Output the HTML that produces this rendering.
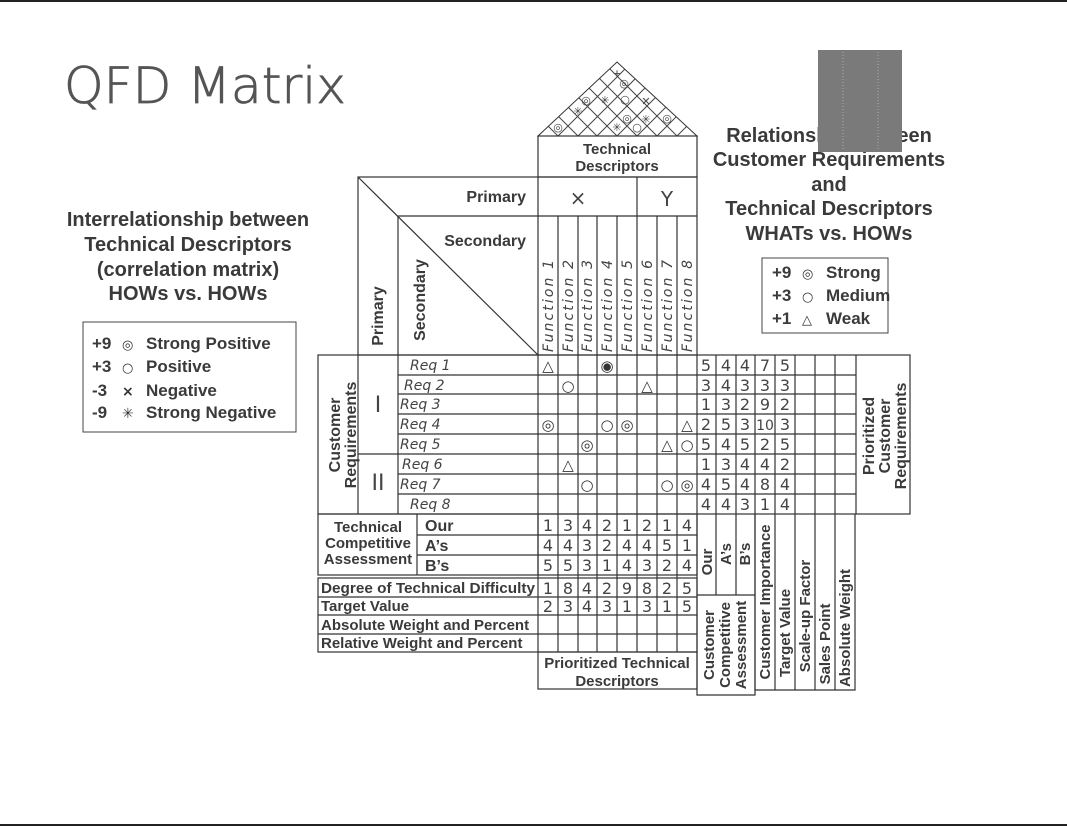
<!DOCTYPE html>
<html><head><meta charset="utf-8"><style>
body{margin:0;background:#fff}
svg{display:block}
.b{font-family:"Liberation Sans",sans-serif;font-weight:bold;fill:#3a3a3a}
.h{font-family:"DejaVu Sans",sans-serif;fill:#444}
.s{font-family:"DejaVu Sans",sans-serif;fill:#333}
</style></head><body>
<svg width="1067" height="827" viewBox="0 0 1067 827" xmlns="http://www.w3.org/2000/svg">
<rect width="1067" height="827" fill="#fff"/>
<line x1="0" y1="1" x2="1067" y2="1" stroke="#222" stroke-width="2"/>
<line x1="0" y1="825" x2="1067" y2="825" stroke="#222" stroke-width="2"/>
<text x="64" y="103" font-family="DejaVu Sans ExtraLight, DejaVu Sans, sans-serif" font-weight="200" font-size="50" fill="#555" stroke="#555" stroke-width="0.8" textLength="282" lengthAdjust="spacingAndGlyphs">QFD Matrix</text>

<g class="b" font-size="20" text-anchor="middle">
<text x="188" y="226">Interrelationship between</text>
<text x="188" y="251">Technical Descriptors</text>
<text x="188" y="276">(correlation matrix)</text>
<text x="188" y="300">HOWs vs. HOWs</text>
</g>
<g class="b" font-size="20" text-anchor="middle">
<text x="829" y="142">Relationship between</text>
<text x="829" y="166">Customer Requirements</text>
<text x="829" y="191">and</text>
<text x="829" y="215">Technical Descriptors</text>
<text x="829" y="240">WHATs vs. HOWs</text>
</g>
<rect x="818" y="50" width="84" height="102" fill="#7a7a7a"/>
<line x1="843" y1="52" x2="843" y2="150" stroke="#aaa" stroke-dasharray="1 2"/>
<line x1="878" y1="52" x2="878" y2="150" stroke="#aaa" stroke-dasharray="1 2"/>

<rect x="83" y="322" width="213" height="110" fill="none" stroke="#444"/>
<g class="b" font-size="17">
<text x="92" y="349">+9</text><text x="122" y="349" class="s" font-size="13">◎</text><text x="146" y="349">Strong Positive</text>
<text x="92" y="372">+3</text><text x="122" y="372" class="s" font-size="13">○</text><text x="146" y="372">Positive</text>
<text x="92" y="396">-3</text><text x="122" y="396" class="s" font-size="14">×</text><text x="146" y="396">Negative</text>
<text x="92" y="418">-9</text><text x="122" y="418" class="s" font-size="14">✳</text><text x="146" y="418">Strong Negative</text>
</g>
<rect x="762" y="258" width="126" height="75" fill="none" stroke="#444"/>
<g class="b" font-size="17">
<text x="772" y="278">+9</text><text x="802" y="278" class="s" font-size="13">◎</text><text x="826" y="278">Strong</text>
<text x="772" y="301">+3</text><text x="802" y="301" class="s" font-size="13">○</text><text x="826" y="301">Medium</text>
<text x="772" y="324">+1</text><text x="802" y="324" class="s" font-size="13">△</text><text x="826" y="324">Weak</text>
</g>

<defs><clipPath id="roof"><polygon points="538,136 617,62 697,136"/></clipPath></defs>
<g clip-path="url(#roof)" stroke="#444" stroke-width="1">
<line x1="538" y1="136" x2="638" y2="36"/><line x1="558" y1="136" x2="658" y2="36"/><line x1="578" y1="136" x2="678" y2="36"/><line x1="597" y1="136" x2="697" y2="36"/><line x1="617" y1="136" x2="717" y2="36"/><line x1="637" y1="136" x2="737" y2="36"/><line x1="657" y1="136" x2="757" y2="36"/><line x1="677" y1="136" x2="777" y2="36"/>
<line x1="697" y1="136" x2="597" y2="36"/><line x1="677" y1="136" x2="577" y2="36"/><line x1="657" y1="136" x2="557" y2="36"/><line x1="637" y1="136" x2="537" y2="36"/><line x1="617" y1="136" x2="517" y2="36"/><line x1="597" y1="136" x2="497" y2="36"/><line x1="578" y1="136" x2="478" y2="36"/><line x1="558" y1="136" x2="458" y2="36"/>
</g>
<polygon points="538,136 617,62 697,136" fill="none" stroke="#333"/>
<g class="h" font-size="11" text-anchor="middle">
<text x="558" y="131">◎</text><text x="578" y="115">✳</text><text x="586" y="104">◎</text><text x="605" y="104">✳</text><text x="625" y="103">○</text><text x="624" y="87">◎</text><text x="617" y="77">+</text><text x="646" y="105">✕</text><text x="627" y="122">◎</text><text x="646" y="123">✳</text><text x="617" y="131">✳</text><text x="637" y="131">○</text><text x="667" y="122">◎</text>
</g>

<g fill="none" stroke="#333" stroke-width="1.2">
<rect x="538" y="136" width="159" height="41"/>
<rect x="358" y="177" width="339" height="178"/>
<line x1="398" y1="216" x2="697" y2="216"/>
<line x1="398" y1="216" x2="398" y2="355"/>
<line x1="538" y1="177" x2="538" y2="355"/>
<line x1="637" y1="177" x2="637" y2="216"/>
<line x1="358" y1="177" x2="538" y2="355"/>
<path d="M558 216V514M578 216V514M597 216V514M617 216V514M637 216V514M657 216V514M677 216V514"/>
<rect x="318" y="355" width="592" height="159"/>
<line x1="358" y1="355" x2="358" y2="514"/>
<line x1="398" y1="355" x2="398" y2="514"/>
<line x1="538" y1="355" x2="538" y2="514"/>
<line x1="697" y1="355" x2="697" y2="514"/>
<line x1="358" y1="454" x2="398" y2="454"/>
<path d="M398 375H856M398 394H856M398 414H856M398 434H856M398 454H856M398 474H856M398 494H856"/>
<path d="M716 355V514M736 355V514M755 355V514M775 355V514M795 355V514M815 355V514M835 355V514M856 355V514"/>
<rect x="318" y="514" width="220" height="61"/>
<line x1="417" y1="514" x2="417" y2="575"/>
<path d="M417 535H697M417 555H697"/>
<rect x="538" y="514" width="159" height="61"/>
<rect x="318" y="578" width="379" height="74"/>
<path d="M318 597H697M318 615H697M318 634H697"/>
<line x1="538" y1="575" x2="538" y2="652"/>
<path d="M558 514V652M578 514V652M597 514V652M617 514V652M637 514V652M657 514V652M677 514V652"/>
<rect x="538" y="652" width="159" height="37"/>
<path d="M697 514V695H755V514M716 514V595M736 514V595M697 595H755"/>
<path d="M755 514V690H855V514M775 514V690M795 514V690M815 514V690M835 514V690"/>
</g>

<g class="b" font-size="15" text-anchor="middle">
<text x="617" y="154">Technical</text><text x="617" y="171">Descriptors</text>
</g>
<text class="b" x="526" y="202" font-size="16" text-anchor="end">Primary</text>
<text class="b" x="526" y="246" font-size="16" text-anchor="end">Secondary</text>
<text class="h" x="578" y="205" font-size="20" text-anchor="middle">×</text>
<text class="h" x="667" y="206" font-size="20" text-anchor="middle">Y</text>
<text class="b" font-size="16" text-anchor="middle" transform="translate(383,316) rotate(-90)">Primary</text>
<text class="b" font-size="16" text-anchor="middle" transform="translate(425,300) rotate(-90)">Secondary</text>
<g class="h" font-size="14" font-style="italic">
<text transform="translate(553,352) rotate(-90)" textLength="92">Function 1</text>
<text transform="translate(573,352) rotate(-90)" textLength="92">Function 2</text>
<text transform="translate(592,352) rotate(-90)" textLength="92">Function 3</text>
<text transform="translate(612,352) rotate(-90)" textLength="92">Function 4</text>
<text transform="translate(632,352) rotate(-90)" textLength="92">Function 5</text>
<text transform="translate(652,352) rotate(-90)" textLength="92">Function 6</text>
<text transform="translate(672,352) rotate(-90)" textLength="92">Function 7</text>
<text transform="translate(692,352) rotate(-90)" textLength="92">Function 8</text>
</g>
<g class="b" font-size="16" text-anchor="middle">
<text transform="translate(340,435) rotate(-90)">Customer</text>
<text transform="translate(356,435) rotate(-90)">Requirements</text>
</g>
<g class="h" font-size="22" font-family="Liberation Serif,serif" text-anchor="middle">
<text x="378" y="412">I</text><text x="378" y="490">II</text>
</g>
<g class="h" font-size="14" font-style="italic">
<text x="410" y="370">Req 1</text><text x="404" y="390">Req 2</text><text x="400" y="409">Req 3</text><text x="400" y="429">Req 4</text><text x="400" y="449">Req 5</text><text x="402" y="469">Req 6</text><text x="400" y="489">Req 7</text><text x="410" y="509">Req 8</text>
</g>
<g class="s" font-size="15" text-anchor="middle">
<text x="548" y="371">△</text><text x="607" y="371">◉</text>
<text x="568" y="391">○</text><text x="647" y="391">△</text>
<text x="548" y="430">◎</text><text x="607" y="430">○</text><text x="627" y="430">◎</text><text x="687" y="430">△</text>
<text x="587" y="450">◎</text><text x="667" y="450">△</text><text x="687" y="450">○</text>
<text x="568" y="470">△</text>
<text x="587" y="490">○</text><text x="667" y="490">○</text><text x="687" y="490">◎</text>
</g>
<g class="h" font-size="16" text-anchor="middle">
<text x="706" y="371">5</text><text x="726" y="371">4</text><text x="745" y="371">4</text><text x="765" y="371">7</text><text x="785" y="371">5</text>
<text x="706" y="391">3</text><text x="726" y="391">4</text><text x="745" y="391">3</text><text x="765" y="391">3</text><text x="785" y="391">3</text>
<text x="706" y="410">1</text><text x="726" y="410">3</text><text x="745" y="410">2</text><text x="765" y="410">9</text><text x="785" y="410">2</text>
<text x="706" y="430">2</text><text x="726" y="430">5</text><text x="745" y="430">3</text><text x="765" y="430" font-size="14">10</text><text x="785" y="430">3</text>
<text x="706" y="450">5</text><text x="726" y="450">4</text><text x="745" y="450">5</text><text x="765" y="450">2</text><text x="785" y="450">5</text>
<text x="706" y="470">1</text><text x="726" y="470">3</text><text x="745" y="470">4</text><text x="765" y="470">4</text><text x="785" y="470">2</text>
<text x="706" y="490">4</text><text x="726" y="490">5</text><text x="745" y="490">4</text><text x="765" y="490">8</text><text x="785" y="490">4</text>
<text x="706" y="510">4</text><text x="726" y="510">4</text><text x="745" y="510">3</text><text x="765" y="510">1</text><text x="785" y="510">4</text>
</g>
<g class="b" font-size="16" text-anchor="middle">
<text transform="translate(874,436) rotate(-90)">Prioritized</text>
<text transform="translate(890,436) rotate(-90)">Customer</text>
<text transform="translate(906,436) rotate(-90)">Requirements</text>
</g>
<g class="b" font-size="15">
<text x="368" y="532" text-anchor="middle">Technical</text>
<text x="368" y="548" text-anchor="middle">Competitive</text>
<text x="368" y="564" text-anchor="middle">Assessment</text>
<text x="425" y="531" font-size="16">Our</text><text x="425" y="551" font-size="16">A’s</text><text x="425" y="571" font-size="16">B’s</text>
<text x="321" y="593" textLength="214" lengthAdjust="spacingAndGlyphs">Degree of Technical Difficulty</text>
<text x="321" y="611">Target Value</text>
<text x="321" y="630">Absolute Weight and Percent</text>
<text x="321" y="648">Relative Weight and Percent</text>
<text x="617" y="668" text-anchor="middle">Prioritized Technical</text>
<text x="617" y="686" text-anchor="middle">Descriptors</text>
</g>
<g class="h" font-size="16" text-anchor="middle">
<text x="548" y="531">1</text><text x="568" y="531">3</text><text x="587" y="531">4</text><text x="607" y="531">2</text><text x="627" y="531">1</text><text x="647" y="531">2</text><text x="667" y="531">1</text><text x="687" y="531">4</text>
<text x="548" y="551">4</text><text x="568" y="551">4</text><text x="587" y="551">3</text><text x="607" y="551">2</text><text x="627" y="551">4</text><text x="647" y="551">4</text><text x="667" y="551">5</text><text x="687" y="551">1</text>
<text x="548" y="571">5</text><text x="568" y="571">5</text><text x="587" y="571">3</text><text x="607" y="571">1</text><text x="627" y="571">4</text><text x="647" y="571">3</text><text x="667" y="571">2</text><text x="687" y="571">4</text>
<text x="548" y="594">1</text><text x="568" y="594">8</text><text x="587" y="594">4</text><text x="607" y="594">2</text><text x="627" y="594">9</text><text x="647" y="594">8</text><text x="667" y="594">2</text><text x="687" y="594">5</text>
<text x="548" y="612">2</text><text x="568" y="612">3</text><text x="587" y="612">4</text><text x="607" y="612">3</text><text x="627" y="612">1</text><text x="647" y="612">3</text><text x="667" y="612">1</text><text x="687" y="612">5</text>
</g>
<g class="b" font-size="15" text-anchor="middle">
<text transform="translate(712,562) rotate(-90)">Our</text>
<text transform="translate(731,554) rotate(-90)">A’s</text>
<text transform="translate(750,554) rotate(-90)">B’s</text>
<text transform="translate(714,645) rotate(-90)">Customer</text>
<text transform="translate(730,645) rotate(-90)">Competitive</text>
<text transform="translate(746,645) rotate(-90)">Assessment</text>
<text transform="translate(770,602) rotate(-90)">Customer Importance</text>
<text transform="translate(790,633) rotate(-90)">Target Value</text>
<text transform="translate(810,616) rotate(-90)">Scale-up Factor</text>
<text transform="translate(830,644) rotate(-90)">Sales Point</text>
<text transform="translate(850,628) rotate(-90)">Absolute Weight</text>
</g>
</svg>
</body></html>
